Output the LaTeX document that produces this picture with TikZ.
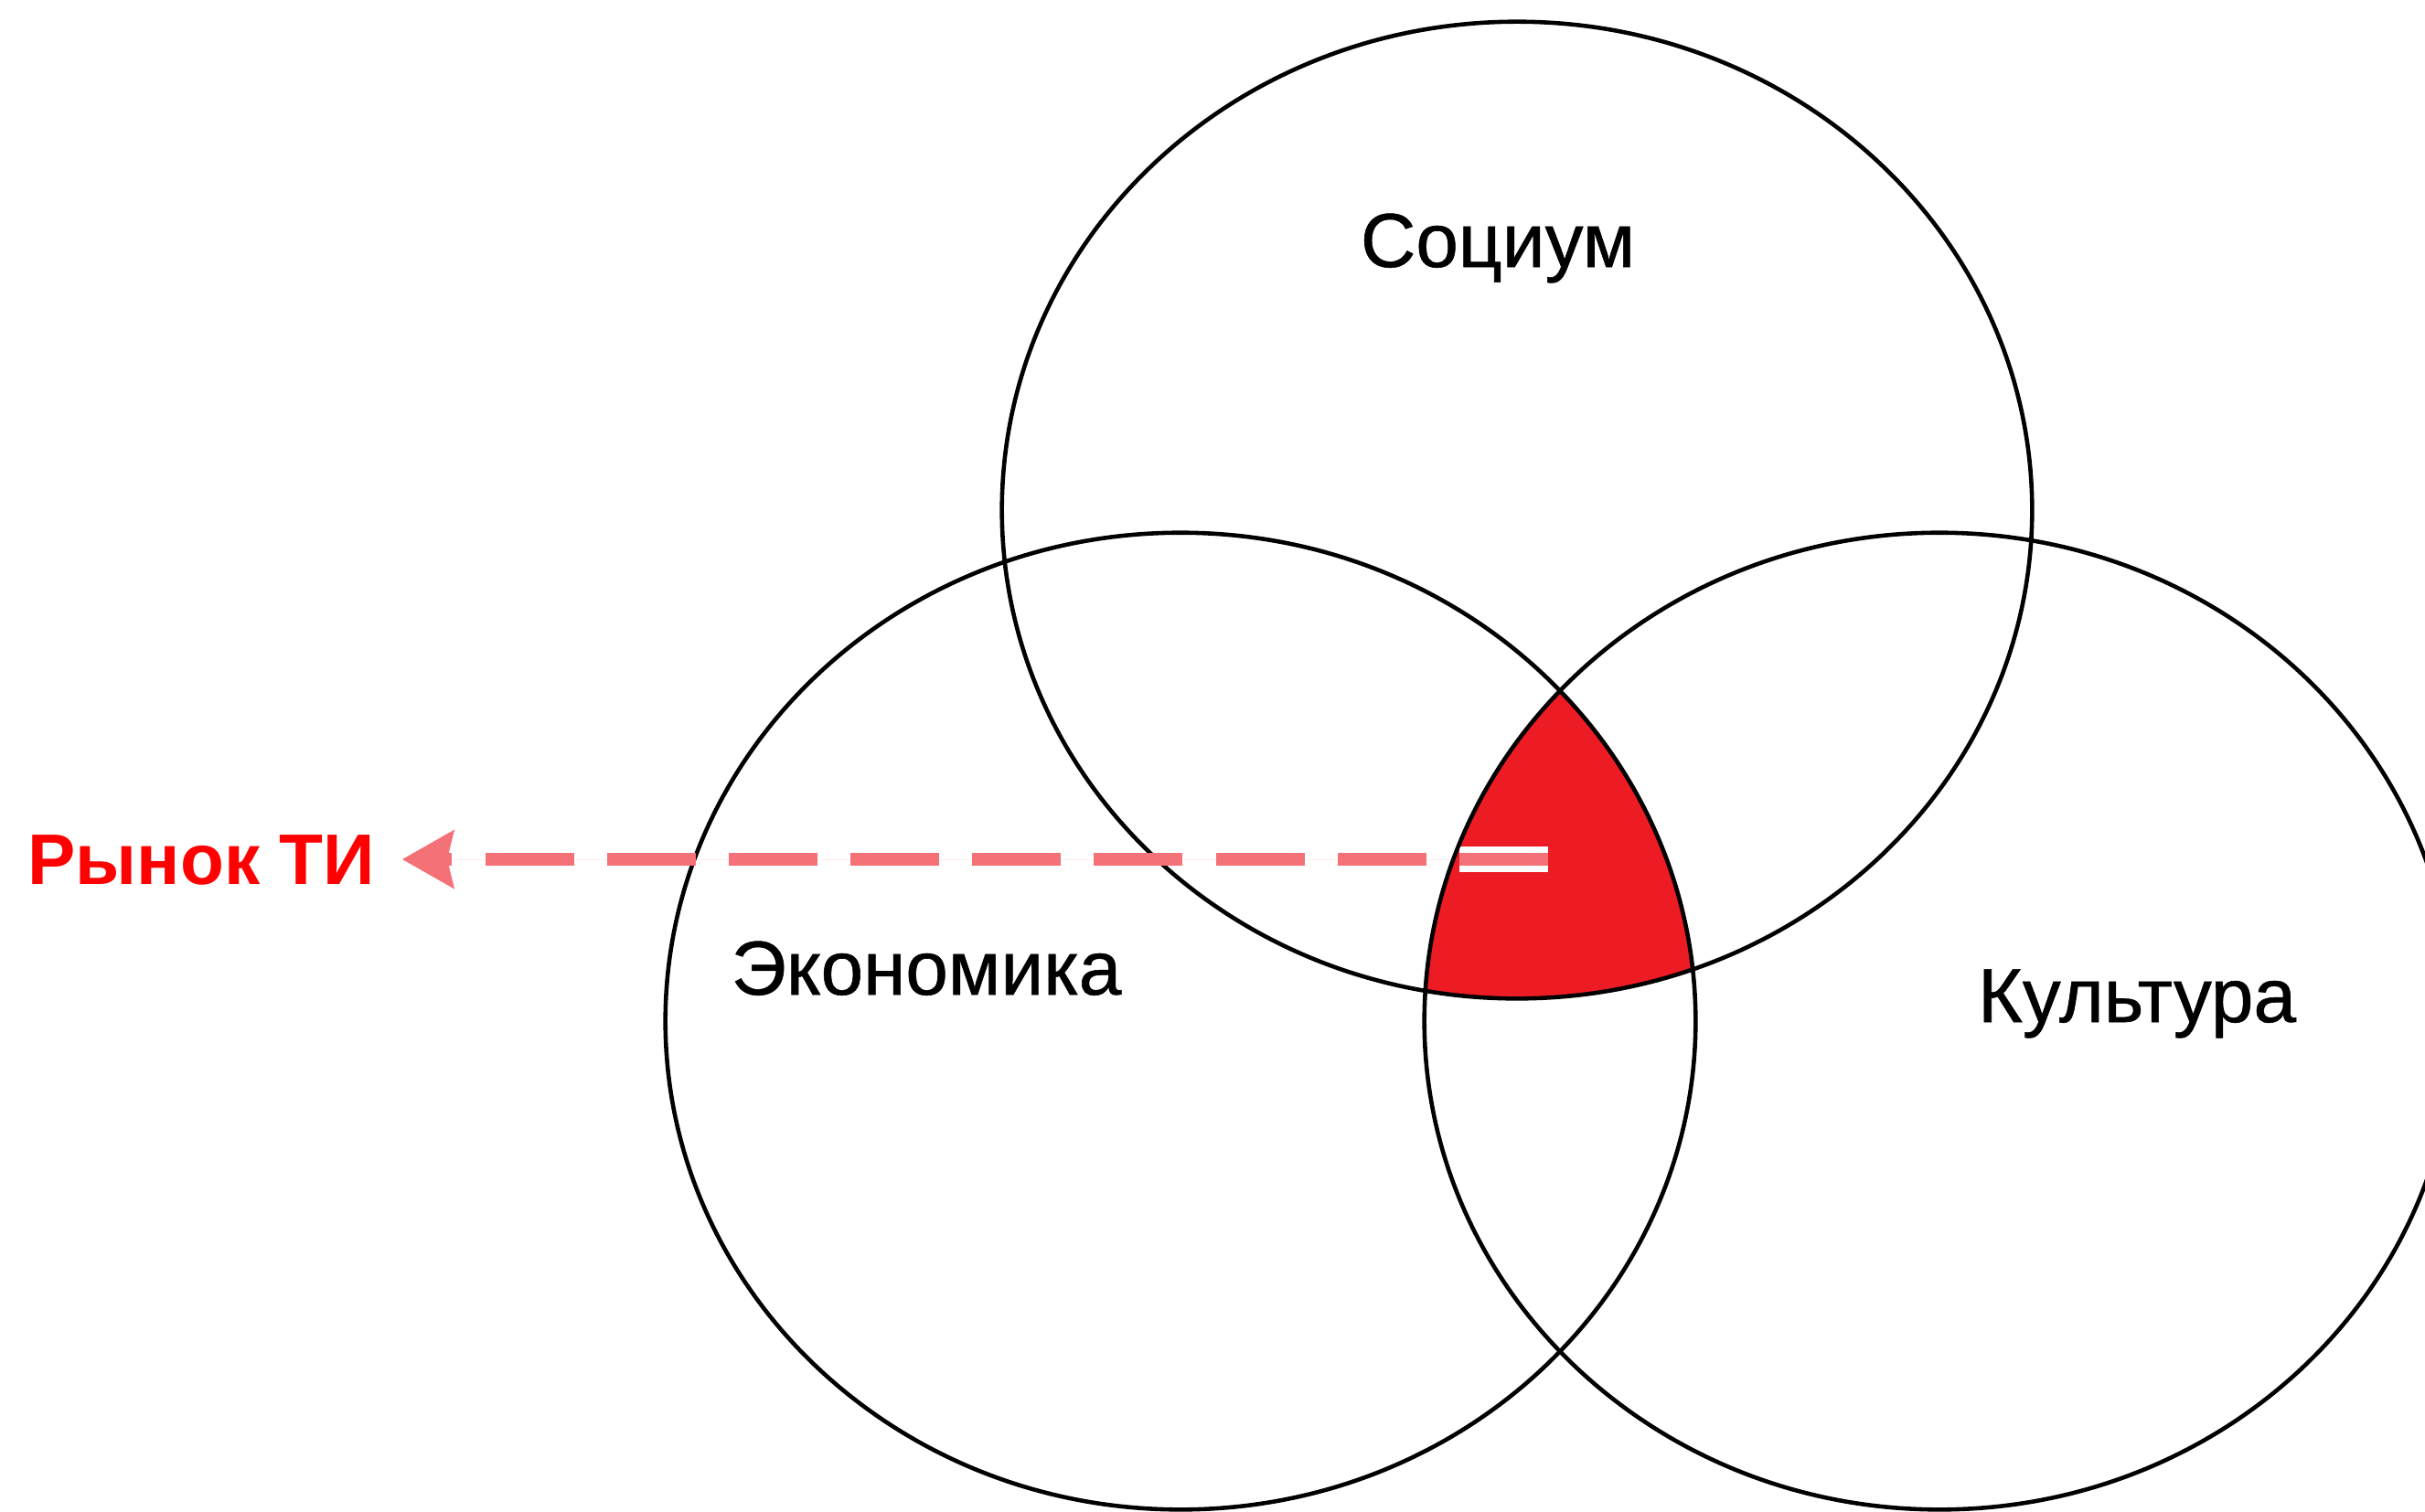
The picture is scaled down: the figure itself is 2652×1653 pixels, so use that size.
\documentclass[tikz,border=0pt]{standalone}
\usepackage{fontspec}
\setmainfont{Liberation Sans}
\newfontfamily\setfont{Liberation Sans}[FakeBold=0.7]
\usepackage{xcolor}
\usetikzlibrary{arrows.meta}
\definecolor{vennred}{HTML}{ED1C24}
\definecolor{labelred}{HTML}{FF0000}

\begin{document}
\begin{tikzpicture}[
  x=0.01cm,y=-0.01cm,
  font=\setfont\fontsize{23.8pt}{28pt}\selectfont,
  rad/.style={x radius=5.63cm,y radius=5.34cm},
  set/.style={draw=black,line width=1.3pt},
  lbl/.style={anchor=base,inner sep=0pt},
  lead/.style={draw=vennred!62!white,fill=vennred!62!white,line width=3.9pt,
    dash pattern=on 0.97cm off 0.361cm},
  halo/.style={draw=white,line width=7.9pt,dash pattern=on 0.97cm off 0.361cm}
]
  \useasboundingbox (0,0) rectangle (2652,1653);
  \clip (0,0) rectangle (2652,1653);
  \coordinate (soc) at (1659,558);
  \coordinate (eco) at (1291,1117);
  \coordinate (kul) at (2121,1117);
  \coordinate (core) at (1693,940);
  % common part of the three sets
  \begin{scope}
    \clip (soc) ellipse [rad];
    \clip (eco) ellipse [rad];
    \fill[vennred] (kul) ellipse [rad];
  \end{scope}
  \node[lbl,anchor=base east,text=labelred,
    font=\rmfamily\fontsize{22.3pt}{26pt}\selectfont\bfseries] (mkt) at (411,967) {Рынок ТИ};
  \draw[halo] (core) -- (mkt.east |- core);
  \draw[set] (soc) ellipse [rad];
  \draw[set] (eco) ellipse [rad];
  \draw[set] (kul) ellipse [rad];
  \draw[lead,-{Stealth[length=0.57cm,width=0.65cm,inset=0.08cm,line width=0pt]},
    shorten >=0.29cm] (core) -- (mkt.east |- core);
  \node[lbl] (soctext) at (1638,292) {Социум};
  \node[lbl] (ecotext) at (1013,1088) {Экономика};
  \node[lbl] (kultext) at (2337,1118) {Культура};
\end{tikzpicture}
\end{document}
